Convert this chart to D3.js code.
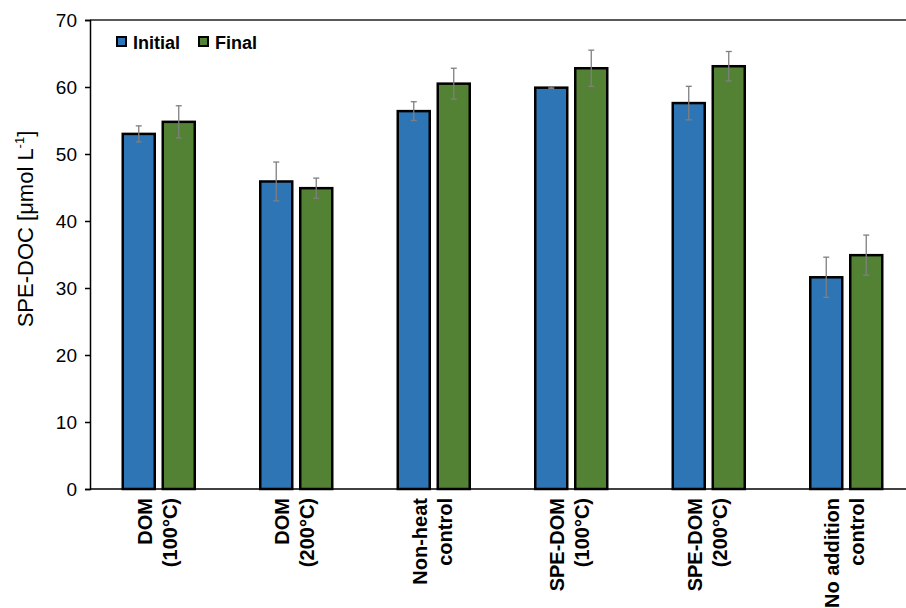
<!DOCTYPE html>
<html>
<head>
<meta charset="utf-8">
<script src="https://cdn.jsdelivr.net/npm/d3@7"></script>
<style>
  body { margin: 0; background: #fff; }
  svg { font-family: "Liberation Sans", Arial, sans-serif; }
</style>
</head>
<body>
<div id="chart"></div>
<script>
// Treatments (two-line labels)
const categories = [
    ['DOM', '(100°C)'],
    ['DOM', '(200°C)'],
    ['Non-heat', 'control'],
    ['SPE-DOM', '(100°C)'],
    ['SPE-DOM', '(200°C)'],
    ['No addition', 'control']
];
const seriesNames = ['Initial', 'Final'];
const initialValues = [53.0, 45.9, 56.4, 59.9, 57.6, 31.6];
const initialErrors = [1.2, 2.9, 1.4, 0.1, 2.5, 3.0];
const finalValues = [54.8, 44.9, 60.5, 62.8, 63.1, 34.9];
const finalErrors = [2.4, 1.5, 2.3, 2.7, 2.2, 3.0];
const yTicks = [0, 10, 20, 30, 40, 50, 60, 70];

const colors = {Initial: '#2E75B6', Final: '#548235'};

const width = 906, height = 608;
const margin = {top: 20, right: -9, bottom: 119, left: 90};

const svg = d3.select('#chart')
    .append('svg')
    .attr('width', width)
    .attr('height', height);

const x = d3.scaleBand()
    .domain(d3.range(categories.length))
    .range([margin.left, width - margin.right]);

const x1 = d3.scaleBand()
    .domain(seriesNames)
    .range([x.bandwidth() / 2 - 36, x.bandwidth() / 2 + 36])
    .paddingInner(0.2);

const y = d3.scaleLinear()
    .domain([0, 70])
    .range([height - margin.bottom, margin.top]);

// top frame line
svg.append('line')
    .attr('x1', margin.left).attr('x2', width)
    .attr('y1', y(70)).attr('y2', y(70))
    .attr('stroke', '#222').attr('stroke-width', 1.5);

// bars
const rows = categories.map((c, i) => ({
    i,
    items: [
        {s: 'Initial', v: initialValues[i], e: initialErrors[i]},
        {s: 'Final', v: finalValues[i], e: finalErrors[i]}
    ]
}));

const groups = svg.selectAll('.group')
    .data(rows)
    .enter()
    .append('g')
    .attr('class', 'group')
    .attr('transform', d => `translate(${x(d.i)},0)`);

groups.selectAll('rect')
    .data(d => d.items)
    .enter()
    .append('rect')
    .attr('x', d => x1(d.s))
    .attr('y', d => y(d.v))
    .attr('width', x1.bandwidth())
    .attr('height', d => y(0) - y(d.v))
    .attr('fill', d => colors[d.s])
    .attr('stroke', '#000')
    .attr('stroke-width', 2.5);

// error bars
const err = groups.selectAll('.err')
    .data(d => d.items)
    .enter()
    .append('g')
    .attr('class', 'err')
    .attr('stroke', '#7f7f7f')
    .attr('stroke-width', 1.3);

err.append('line')
    .attr('x1', d => x1(d.s) + x1.bandwidth() / 2)
    .attr('x2', d => x1(d.s) + x1.bandwidth() / 2)
    .attr('y1', d => y(d.v + d.e))
    .attr('y2', d => y(d.v - d.e));

[1, -1].forEach(sign => {
    err.append('line')
        .attr('x1', d => x1(d.s) + x1.bandwidth() / 2 - 3)
        .attr('x2', d => x1(d.s) + x1.bandwidth() / 2 + 3)
        .attr('y1', d => y(d.v + sign * d.e))
        .attr('y2', d => y(d.v + sign * d.e));
});

// y axis
const yAxis = svg.append('g')
    .attr('transform', `translate(${margin.left},0)`)
    .call(d3.axisLeft(y).tickValues(yTicks).tickSize(5).tickPadding(8));
yAxis.select('.domain').attr('stroke', '#000').attr('stroke-width', 1.5);
yAxis.selectAll('.tick line').attr('stroke', '#000').attr('stroke-width', 1.5);
yAxis.selectAll('text').attr('font-size', 19).attr('fill', '#000')
    .attr('font-family', '"Liberation Sans", Arial, sans-serif');

// x axis line
svg.append('line')
    .attr('x1', margin.left).attr('x2', width)
    .attr('y1', y(0)).attr('y2', y(0))
    .attr('stroke', '#000').attr('stroke-width', 1.5);

// x labels (rotated, two lines)
categories.forEach((lines, i) => {
    const cx = x(i) + x.bandwidth() / 2;
    lines.forEach((t, j) => {
        svg.append('text')
            .attr('transform', `translate(${cx - 7 + j * 25},${y(0) + 9}) rotate(-90)`)
            .attr('text-anchor', 'end')
            .attr('font-size', 20)
            .attr('font-weight', 'bold')
            .attr('fill', '#000')
            .text(t);
    });
});

// y axis title
const yTitle = svg.append('text')
    .attr('transform', `translate(33,229) rotate(-90)`)
    .attr('text-anchor', 'middle')
    .attr('font-size', 22)
    .attr('fill', '#000');
yTitle.append('tspan').text('SPE-DOC [μmol L');
yTitle.append('tspan').attr('dy', -9).attr('font-size', 13).text('-1');
yTitle.append('tspan').attr('dy', 9).text(']');

// legend
const legend = svg.append('g').attr('transform', 'translate(117,37)');
const legX = [0, 82];
seriesNames.forEach((s, i) => {
    legend.append('rect')
        .attr('x', legX[i]).attr('y', 0)
        .attr('width', 9).attr('height', 9)
        .attr('fill', colors[s])
        .attr('stroke', '#000').attr('stroke-width', 2);
    legend.append('text')
        .attr('x', legX[i] + 16).attr('y', 12)
        .attr('font-size', 18)
        .attr('font-weight', 'bold')
        .attr('fill', '#000')
        .text(s);
});
</script>
</body>
</html>
